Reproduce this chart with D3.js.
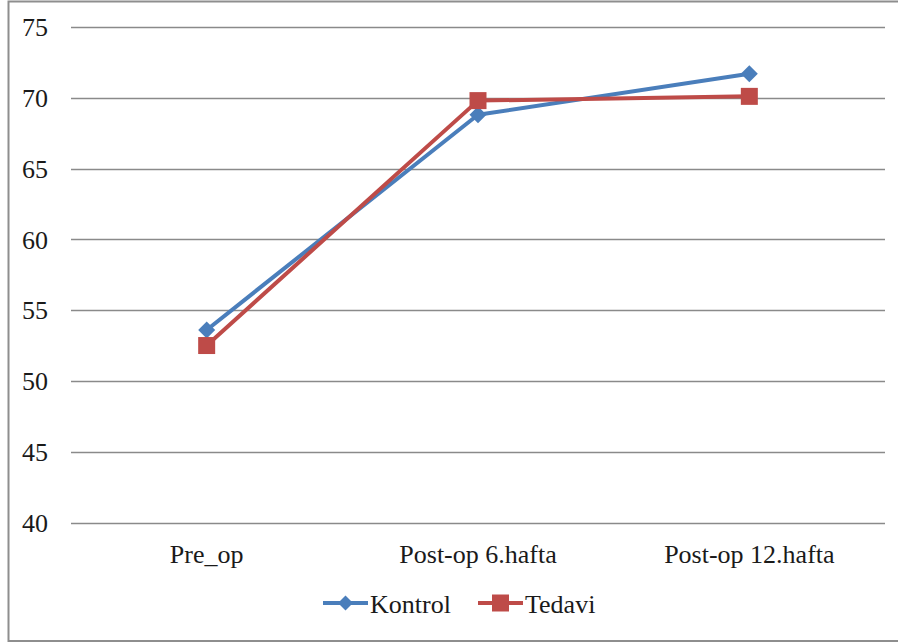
<!DOCTYPE html>
<html>
<head>
<meta charset="utf-8">
<script src="https://cdn.jsdelivr.net/npm/d3@7"></script>
<style>
  html, body { margin: 0; padding: 0; background: #fff; }
  svg { display: block; }
</style>
</head>
<body>
<svg id="chart" width="898" height="643"></svg>
<script>
// Categories and series values
const categories = ["Pre_op", "Post-op 6.hafta", "Post-op 12.hafta"];
const kontrol = [53.6, 68.8, 71.7];
const tedavi = [52.5, 69.8, 70.1];
const yTicks = [40, 45, 50, 55, 60, 65, 70, 75];
const seriesNames = ["Kontrol", "Tedavi"];
const seriesColors = ["#4a7ebb", "#be4b48"];

const FONT = "'Liberation Serif', 'Times New Roman', Tinos, 'DejaVu Serif', serif";
const FONT_SIZE = 26;

const svg = d3.select("#chart");
const W = 898;
const plot = { left: 71, right: 885, top: 27, bottom: 522.5 };

// Outer frame
svg.append("rect")
  .attr("x", 8.5).attr("y", 1.5)
  .attr("width", W + 10).attr("height", 639.5)
  .attr("fill", "none").attr("stroke", "#8e8e8e").attr("stroke-width", 2);

const x = d3.scaleBand().domain(categories).range([plot.left, plot.right]);
const y = d3.scaleLinear().domain([40, 75]).range([plot.bottom, plot.top]);

// Horizontal gridlines
svg.append("g").selectAll("line").data(yTicks).join("line")
  .attr("x1", plot.left).attr("x2", plot.right)
  .attr("y1", d => Math.round(y(d)) + 0.5).attr("y2", d => Math.round(y(d)) + 0.5)
  .attr("stroke", "#8a8a8a").attr("stroke-width", 1.3);

function styleText(sel) {
  sel.style("font-family", FONT).style("font-size", FONT_SIZE + "px").attr("fill", "#1a1a1a");
}

// Y axis labels
const gy = svg.append("g").attr("transform", "translate(48,0)")
  .call(d3.axisLeft(y).tickValues(yTicks).tickSize(0).tickPadding(0));
gy.select(".domain").remove();
gy.selectAll("text").call(styleText).attr("dy", "0.34em");

// X axis labels
const gx = svg.append("g").attr("transform", "translate(0,563)")
  .call(d3.axisBottom(x).tickSize(0).tickPadding(0));
gx.select(".domain").remove();
gx.selectAll("text").call(styleText).attr("dy", 0);

const cx = c => x(c) + x.bandwidth() / 2;
const line = d3.line().x((d, i) => cx(categories[i])).y(d => y(d));

const diamond = s => `M0,${-s}L${s},0L0,${s}L${-s},0Z`;
const square = s => `M${-s},${-s}H${s}V${s}H${-s}Z`;

function drawSeries(values, color, shape) {
  const g = svg.append("g");
  g.append("path").datum(values)
    .attr("d", line).attr("fill", "none")
    .attr("stroke", color).attr("stroke-width", 4).attr("stroke-linejoin", "round");
  g.selectAll("path.m").data(values).join("path").attr("class", "m")
    .attr("transform", (d, i) => `translate(${cx(categories[i])},${y(d)})`)
    .attr("d", shape).attr("fill", color);
}

drawSeries(kontrol, seriesColors[0], diamond(8.5));
drawSeries(tedavi, seriesColors[1], square(8.5));

// Legend
const legendItems = [
  { name: seriesNames[0], color: seriesColors[0], shape: diamond(7.5), x0: 323 },
  { name: seriesNames[1], color: seriesColors[1], shape: square(8.5), x0: 478 }
];
const lg = svg.append("g");
legendItems.forEach(it => {
  const ly = 603;
  lg.append("line").attr("x1", it.x0).attr("x2", it.x0 + 45)
    .attr("y1", ly).attr("y2", ly).attr("stroke", it.color).attr("stroke-width", 4);
  lg.append("path").attr("transform", `translate(${it.x0 + 22.5},${ly})`)
    .attr("d", it.shape).attr("fill", it.color);
  lg.append("text").attr("x", it.x0 + 47).attr("y", 613)
    .call(styleText).text(it.name);
});
</script>
</body>
</html>
